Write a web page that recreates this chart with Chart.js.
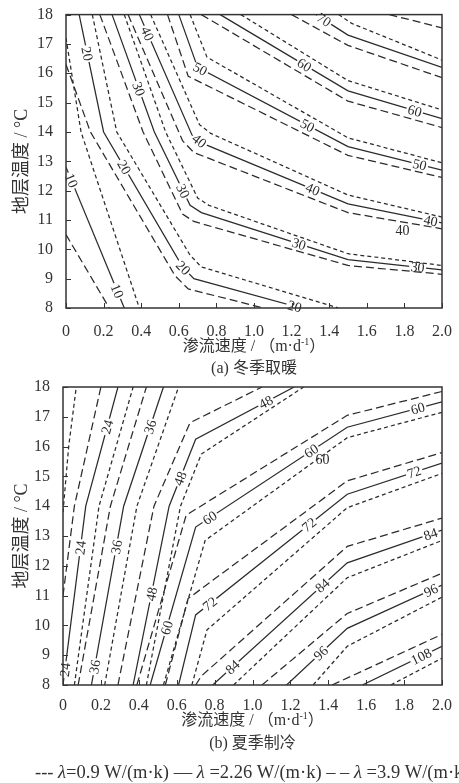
<!DOCTYPE html>
<html lang="zh">
<head>
  <meta charset="UTF-8">
  <title>地层温度-渗流速度等值线</title>
  <script src="https://cdn.jsdelivr.net/npm/chart.js"></script>
  <style>
    body { margin: 0; background: #fff; overflow: hidden; }
    .panel { position: absolute; left: 0; width: 459px; }
    #wrapA { top: 0; }
    #wrapB { top: 370px; }
  </style>
</head>
<body>
  <div class="panel" id="wrapA"><canvas id="chartA" width="459" height="385"></canvas></div>
  <div class="panel" id="wrapB"><canvas id="chartB" width="459" height="413"></canvas></div>

  <script>
    const xTicks = [0, 0.2, 0.4, 0.6, 0.8, 1.0, 1.2, 1.4, 1.6, 1.8, 2.0];
    const yTicks = [8, 9, 10, 11, 12, 13, 14, 15, 16, 17, 18];

    // (a) 冬季取暖: contour vertices [渗流速度, 地层温度]
    const heatMid = [ // λ = 2.26
      { v: 10, pts: [[0, 12.8], [0.31, 8]] },
      { v: 20, pts: [[0.07, 18], [0.2, 14], [0.62, 9.4], [0.68, 9.0], [1.25, 8]] },
      { v: 30, pts: [[0.245, 18], [0.47, 14], [0.66, 11.5], [0.72, 11.25], [1.5, 9.65], [2, 9.3]] },
      { v: 40, pts: [[0.39, 18], [0.67, 13.9], [0.73, 13.6], [1.5, 11.55], [2, 10.9]] },
      { v: 50, pts: [[0.6, 18], [0.7, 16.2], [1.5, 13.5], [2, 12.7]] },
      { v: 60, pts: [[0.82, 18], [1.5, 15.4], [2, 14.45]] },
      { v: 70, pts: [[1.33, 18], [1.5, 17.3], [2, 16.2]] }
    ];
    const heatLow = [ // λ = 0.9
      { v: 10, pts: [[0, 17.2], [0.08, 14], [0.39, 8]] },
      { v: 20, pts: [[0.14, 18], [0.27, 14], [0.66, 9.8], [0.72, 9.4], [1.45, 8]] },
      { v: 30, pts: [[0.31, 18], [0.53, 14], [0.7, 11.75], [0.76, 11.5], [1.5, 9.85], [2, 9.45]] },
      { v: 40, pts: [[0.45, 18], [0.71, 14.25], [0.77, 13.95], [1.5, 11.85], [2, 11.1]] },
      { v: 50, pts: [[0.66, 18], [0.75, 16.55], [1.5, 13.8], [2, 12.95]] },
      { v: 60, pts: [[0.93, 18], [1.5, 15.75], [2, 14.75]] },
      { v: 70, pts: [[1.45, 18], [1.52, 17.7], [2, 16.45]] }
    ];
    const heatHigh = [ // λ = 3.9
      { v: 10, pts: [[0, 10.5], [0.23, 8]] },
      { v: 20, pts: [[0, 16.3], [0.13, 14], [0.58, 9.1], [0.65, 8.65], [1.05, 8]] },
      { v: 30, pts: [[0.18, 18], [0.41, 14], [0.62, 11.2], [0.68, 10.95], [1.5, 9.45], [2, 9.15]] },
      { v: 40, pts: [[0.33, 18], [0.62, 13.7], [0.68, 13.3], [1.5, 11.25], [2, 10.7]] },
      { v: 50, pts: [[0.54, 18], [0.65, 15.9], [1.5, 13.2], [2, 12.45]] },
      { v: 60, pts: [[0.72, 18], [1.5, 15.05], [2, 14.15]] },
      { v: 70, pts: [[1.2, 18], [1.5, 16.95], [2, 15.85]] },
      { v: 80, pts: [[1.72, 18], [2, 17.55]] }
    ];
    const heatLabels = [
      ['10', 0.03, 12.35], ['10', 0.28, 8.6],
      ['20', 0.1, 16.65], ['20', 0.31, 12.8], ['20', 0.62, 9.35], ['20', 1.22, 8.15],
      ['30', 0.36, 15.4], ['30', 0.61, 11.95], ['30', 1.24, 10.2], ['30', 1.87, 9.38],
      ['40', 0.45, 17.4], ['40', 0.71, 13.7], ['40', 1.31, 12.0], ['40', 1.94, 10.98],
      ['50', 0.71, 16.1], ['50', 1.27, 14.05], ['50', 1.88, 12.85],
      ['60', 1.27, 16.3], ['60', 1.85, 14.62],
      ['70', 1.36, 17.7]
    ];
    const heatLoose = [['40', 1.79, 10.62]];

    // (b) 夏季制冷
    const coolMid = [ // λ = 2.26
      { v: 24, pts: [[0, 8], [0.12, 14], [0.29, 18]] },
      { v: 36, pts: [[0.15, 8], [0.32, 14], [0.53, 18]] },
      { v: 48, pts: [[0.37, 8], [0.56, 14], [0.7, 16.25], [1.22, 18]] },
      { v: 60, pts: [[0.46, 8], [0.7, 13.3], [1.5, 16.65], [2, 17.5]] },
      { v: 72, pts: [[0.61, 8], [0.7, 10.35], [1.5, 14.4], [2, 15.45]] },
      { v: 84, pts: [[0.79, 8], [1.5, 12.1], [2, 13.2]] },
      { v: 96, pts: [[1.18, 8], [1.5, 9.9], [2, 11.35]] },
      { v: 108, pts: [[1.58, 8], [2, 9.3]] }
    ];
    const coolLow = [ // λ = 0.9
      { v: 12, pts: [[0, 13.8], [0.03, 16], [0.07, 18]] },
      { v: 24, pts: [[0.06, 8], [0.19, 14], [0.37, 18]] },
      { v: 36, pts: [[0.22, 8], [0.39, 14], [0.61, 18]] },
      { v: 48, pts: [[0.44, 8], [0.62, 14], [0.73, 15.75], [1.27, 18]] },
      { v: 60, pts: [[0.53, 8], [0.75, 12.85], [1.5, 16.3], [2, 17.15]] },
      { v: 72, pts: [[0.68, 8], [0.76, 9.85], [1.5, 13.95], [2, 15.1]] },
      { v: 84, pts: [[0.9, 8], [1.5, 11.6], [2, 12.85]] },
      { v: 96, pts: [[1.32, 8], [1.5, 9.3], [2, 10.95]] },
      { v: 108, pts: [[1.73, 8], [2, 8.9]] }
    ];
    const coolHigh = [ // λ = 3.9
      { v: 24, pts: [[0, 11], [0.06, 14], [0.2, 18]] },
      { v: 36, pts: [[0.08, 8], [0.25, 14], [0.44, 18]] },
      { v: 48, pts: [[0.29, 8], [0.48, 14], [0.67, 16.8], [1.05, 18]] },
      { v: 60, pts: [[0.39, 8], [0.65, 13.7], [1.5, 17.05], [2, 17.85]] },
      { v: 72, pts: [[0.54, 8], [0.66, 10.9], [1.5, 14.85], [2, 15.8]] },
      { v: 84, pts: [[0.7, 8], [0.73, 8.3], [1.5, 12.65], [2, 13.6]] },
      { v: 96, pts: [[1.05, 8], [1.5, 10.4], [2, 11.75]] },
      { v: 108, pts: [[1.42, 8], [2, 9.7]] }
    ];
    const coolLabels = [
      ['24', 0.24, 16.65], ['24', 0.10, 12.6], ['24', 0.03, 8.5],
      ['36', 0.49, 16.6], ['36', 0.31, 12.6], ['36', 0.18, 8.6],
      ['48', 0.61, 14.95], ['48', 0.43, 11.1], ['48', 1.07, 17.5],
      ['60', 0.77, 13.65], ['60', 0.53, 9.95], ['60', 1.3, 15.95], ['60', 1.87, 17.35],
      ['72', 0.79, 10.6], ['72', 1.29, 13.45], ['72', 1.85, 15.2],
      ['84', 0.88, 8.7], ['84', 1.36, 11.4], ['84', 1.94, 13.05],
      ['96', 1.36, 9.07], ['96', 1.94, 11.2],
      ['108', 1.88, 9.1]
    ];
    const coolLoose = [['60', 1.37, 15.55]];

    const serif = '"Liberation Serif", "Times New Roman", "Noto Sans CJK SC", serif';
    const ink = '#2b2b2b';

    function lineSets(list, dash) {
      return list.map(c => ({
        label: String(c.v),
        data: c.pts.map(p => ({ x: p[0], y: p[1] })),
        borderColor: ink,
        borderWidth: 1.25,
        borderDash: dash,
        pointRadius: 0,
        tension: 0,
        fill: false
      }));
    }

    // nearest point on a contour (pixel space) and its direction
    function snap(chart, pts, vx, vy) {
      const xs = chart.scales.x, ys = chart.scales.y;
      const px = xs.getPixelForValue(vx), py = ys.getPixelForValue(vy);
      let best = null;
      for (let i = 0; i < pts.length - 1; i++) {
        const ax = xs.getPixelForValue(pts[i][0]), ay = ys.getPixelForValue(pts[i][1]);
        const bx = xs.getPixelForValue(pts[i + 1][0]), by = ys.getPixelForValue(pts[i + 1][1]);
        const dx = bx - ax, dy = by - ay;
        let t = ((px - ax) * dx + (py - ay) * dy) / (dx * dx + dy * dy);
        t = Math.max(0, Math.min(1, t));
        const qx = ax + t * dx, qy = ay + t * dy;
        const d = (qx - px) ** 2 + (qy - py) ** 2;
        if (!best || d < best.d) best = { d, x: qx, y: qy, ang: Math.atan2(dy, dx) };
      }
      if (best.ang > Math.PI / 2) best.ang -= Math.PI;
      if (best.ang < -Math.PI / 2) best.ang += Math.PI;
      return best;
    }

    function drawPieces(ctx, pieces, cx, cy) {
      // pieces: [text, font, dy]
      let total = 0;
      pieces.forEach(p => { ctx.font = p[1]; total += ctx.measureText(p[0]).width; });
      let x = cx - total / 2;
      ctx.textAlign = 'left';
      pieces.forEach(p => {
        ctx.font = p[1];
        ctx.fillText(p[0], x, cy + (p[2] || 0));
        x += ctx.measureText(p[0]).width;
      });
    }

    const decor = {
      id: 'decor',
      afterDatasetsDraw(chart, args, o) {
        const { ctx, chartArea: a, scales: { x, y } } = chart;
        ctx.save();
        ctx.textAlign = 'center';
        ctx.textBaseline = 'middle';
        ctx.font = '14px ' + serif;
        o.labels.forEach(([t, lx, ly]) => {
          const line = o.mid.find(c => c.v === Number(t));
          const p = snap(chart, line.pts, lx, ly);
          const w = ctx.measureText(t).width;
          ctx.save();
          ctx.translate(p.x, p.y);
          ctx.rotate(p.ang);
          ctx.fillStyle = '#fff';
          ctx.fillRect(-w / 2 - 1.5, -3.5, w + 3, 7);
          ctx.fillStyle = ink;
          ctx.fillText(t, 0, 1);
          ctx.restore();
        });
        ctx.fillStyle = ink;
        o.loose.forEach(([t, lx, ly]) => {
          ctx.fillText(t, x.getPixelForValue(lx), y.getPixelForValue(ly));
        });

        // frame and inward ticks
        ctx.strokeStyle = '#333';
        ctx.lineWidth = 1.5;
        ctx.strokeRect(a.left, a.top, a.right - a.left, a.bottom - a.top);
        ctx.lineWidth = 1;
        ctx.beginPath();
        xTicks.forEach(v => {
          const px = Math.round(x.getPixelForValue(v)) + 0.5;
          ctx.moveTo(px, a.bottom);
          ctx.lineTo(px, a.bottom - 5);
        });
        yTicks.forEach(v => {
          const py = Math.round(y.getPixelForValue(v)) + 0.5;
          ctx.moveTo(a.left, py);
          ctx.lineTo(a.left + 5, py);
        });
        ctx.stroke();
        ctx.restore();
      },
      afterDraw(chart, args, o) {
        const { ctx, chartArea: a } = chart;
        const cx = (a.left + a.right) / 2;
        ctx.save();
        ctx.fillStyle = '#333';
        ctx.textBaseline = 'middle';

        ctx.save();
        ctx.translate(22, (a.top + a.bottom) / 2);
        ctx.rotate(-Math.PI / 2);
        ctx.textAlign = 'center';
        ctx.font = '18px ' + serif;
        ctx.fillText('地层温度 / °C', 0, 0);
        ctx.restore();

        drawPieces(ctx, [
          ['渗流速度 / （m·d', '16px ' + serif],
          ['-1', '10px ' + serif, -5],
          ['）', '16px ' + serif]
        ], cx, o.xTitleY);

        ctx.textAlign = 'center';
        ctx.font = '16px ' + serif;
        ctx.fillText(o.caption, cx, o.captionY);

        if (o.legendY) {
          const n = '18.5px ' + serif, it = 'italic 18.5px ' + serif;
          ctx.textAlign = 'left';
          let px = 35;
          [['--- ', n], ['λ', it], ['=0.9 W/(m·k) — ', n], ['λ', it], [' =2.26 W/(m·k) – – ', n],
           ['λ', it], [' =3.9 W/(m·k)', n]].forEach(([t, f]) => {
            ctx.font = f;
            ctx.fillText(t, px, o.legendY);
            px += ctx.measureText(t).width;
          });
        }
        ctx.restore();
      }
    };

    function makeChart(id, cfg) {
      const el = document.getElementById(id);
      const H = el.height;
      return new Chart(el, {
        type: 'line',
        data: {
          datasets: [
            ...lineSets(cfg.low, [4, 3]),
            ...lineSets(cfg.mid, []),
            ...lineSets(cfg.high, [8, 4])
          ]
        },
        options: {
          responsive: false,
          animation: false,
          devicePixelRatio: 1,
          events: [],
          layout: { padding: { top: cfg.top, right: 459 - cfg.right, left: 0, bottom: 0 } },
          plugins: {
            legend: { display: false },
            tooltip: { enabled: false },
            decor: {
              mid: cfg.mid, labels: cfg.labels, loose: cfg.loose,
              caption: cfg.caption, xTitleY: cfg.xTitleY, captionY: cfg.captionY, legendY: cfg.legendY
            }
          },
          scales: {
            x: {
              type: 'linear', min: 0, max: 2,
              afterFit(s) { s.height = H - cfg.bottom; },
              afterBuildTicks(s) { s.ticks = xTicks.map(v => ({ value: v })); },
              ticks: {
                autoSkip: false, maxRotation: 0, padding: cfg.xPad, color: '#333',
                font: { family: serif, size: 16 },
                callback: v => (v === 0 ? '0' : v.toFixed(1))
              },
              grid: { display: false },
              border: { display: false }
            },
            y: {
              type: 'linear', min: 8, max: 18,
              afterFit(s) { s.width = cfg.left; },
              afterBuildTicks(s) { s.ticks = yTicks.map(v => ({ value: v })); },
              ticks: { autoSkip: false, padding: 5, color: '#333', font: { family: serif, size: 16 } },
              grid: { display: false },
              border: { display: false }
            }
          }
        },
        plugins: [decor]
      });
    }

    makeChart('chartA', {
      low: heatLow, mid: heatMid, high: heatHigh, labels: heatLabels, loose: heatLoose,
      top: 14, bottom: 308, left: 66, right: 442, xPad: 6,
      caption: '(a) 冬季取暖', xTitleY: 347, captionY: 369
    });
    makeChart('chartB', {
      low: coolLow, mid: coolMid, high: coolHigh, labels: coolLabels, loose: coolLoose,
      top: 17, bottom: 315, left: 63, right: 442, xPad: 3,
      caption: '(b) 夏季制冷', xTitleY: 351, captionY: 374, legendY: 403
    });
  </script>
</body>
</html>
